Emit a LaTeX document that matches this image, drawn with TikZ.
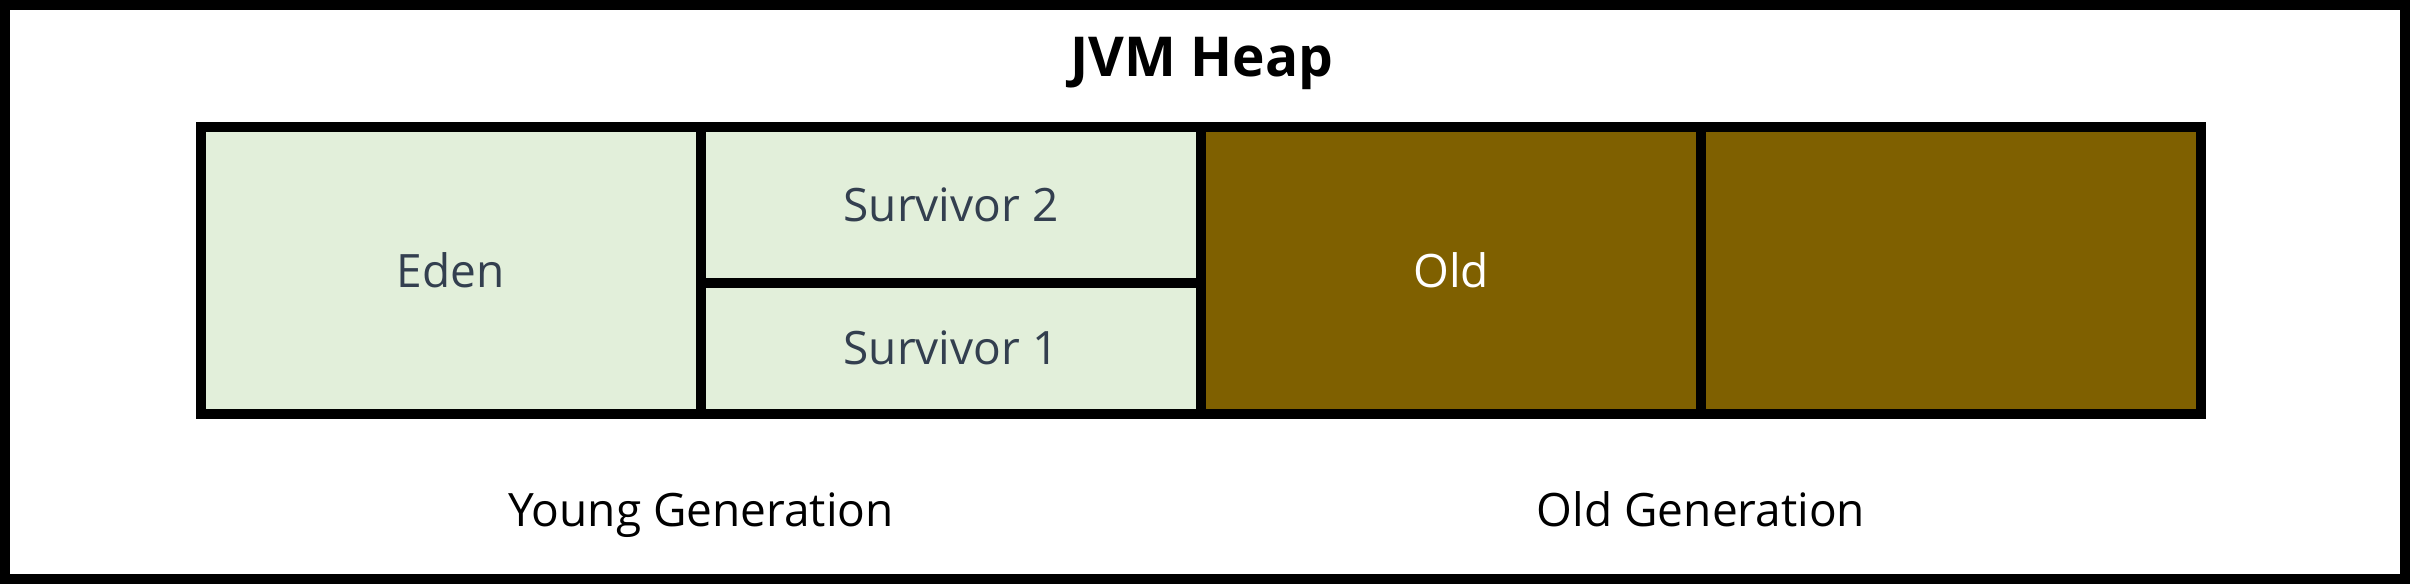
\documentclass[tikz,border=0pt]{standalone}
\usepackage{fontspec}
\setmainfont{Open Sans}
\definecolor{younggreen}{HTML}{E2EFDA}
\definecolor{oldbrown}{HTML}{7F6000}
\definecolor{slatetext}{HTML}{333F4F}
\tikzset{
  cell/.style={draw=black, line width=5pt, inner sep=0pt, minimum width=250pt, font=\fontsize{23}{27}\selectfont},
  youngcell/.style={cell, fill=younggreen, text=slatetext},
  oldcell/.style={cell, fill=oldbrown, text=white},
  genlabel/.style={anchor=base, inner sep=0pt, font=\fontsize{23}{27}\selectfont, text=black},
  titlelabel/.style={anchor=base, inner sep=0pt, font=\fontsize{27.5}{32}\bfseries\selectfont, text=black}
}
\begin{document}
\begin{tikzpicture}[x=0.5pt, y=-0.5pt]
\useasboundingbox (0,0) rectangle (2410,584);
\draw[line width=5pt] (5,5) rectangle (2405,579);
\node[titlelabel] (title) at (1202,76) {JVM Heap};
\node[youngcell, minimum height=143.5pt] (eden) at (450.5,270) {Eden};
\node[youngcell, minimum height=78.25pt] (surv2) at (951,204.75) {Survivor 2};
\node[youngcell, minimum height=65.25pt] (surv1) at (951,348.25) {Survivor 1};
\node[oldcell, minimum height=143.5pt] (old) at (1451,270) {Old};
\node[oldcell, minimum height=143.5pt] (old2) at (1951,270) {};
\node[genlabel] (young) at (701,526) {Young Generation};
\node[genlabel] (oldgen) at (1701,526) {Old Generation};
\end{tikzpicture}
\end{document}
